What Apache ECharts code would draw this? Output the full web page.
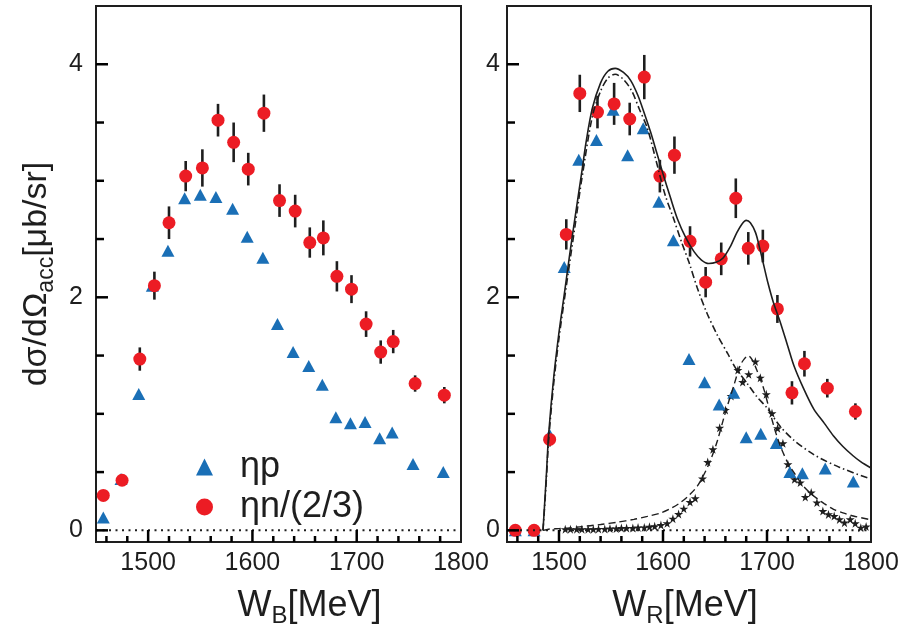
<!DOCTYPE html>
<html>
<head>
<meta charset="utf-8">
<script src="https://cdn.jsdelivr.net/npm/echarts@6/dist/echarts.min.js"></script>
<style>html,body{margin:0;padding:0;background:#fff;}#c{width:905px;height:637px;}</style>
</head>
<body>
<div id="c"></div>
<script>
// ---------- data ----------
const xMajorTicks = [1500, 1600, 1700];
const xLabels = [1500, 1600, 1700, 1800];
const xMinorTicks = [1460, 1480, 1520, 1540, 1560, 1580, 1620, 1640, 1660, 1680, 1720, 1740, 1760, 1780];
const yMajorTicks = [0, 2, 4];
const yMinorTicks = [0.5, 1, 1.5, 2.5, 3, 3.5];

// Left panel (W_B)
const bEtaP_W = [1457, 1474, 1491, 1504, 1519, 1535, 1550, 1565, 1581, 1595, 1610, 1624, 1639, 1654, 1667, 1680, 1694, 1708, 1722, 1734, 1754, 1783];
const bEtaP_Y = [0.11, 0.44, 1.17, 2.10, 2.40, 2.85, 2.88, 2.86, 2.76, 2.52, 2.34, 1.77, 1.53, 1.41, 1.25, 0.97, 0.92, 0.93, 0.79, 0.84, 0.57, 0.50];
const bEtaN_W = [1457, 1475, 1492, 1506, 1520, 1536, 1552, 1567, 1582, 1596, 1611, 1626, 1641, 1655, 1668, 1681, 1695, 1709, 1723, 1735, 1756, 1784];
const bEtaN_Y = [0.30, 0.43, 1.47, 2.10, 2.64, 3.04, 3.11, 3.52, 3.33, 3.10, 3.58, 2.83, 2.74, 2.47, 2.51, 2.18, 2.07, 1.77, 1.53, 1.62, 1.26, 1.16];
const bEtaN_E = [0.04, 0.04, 0.10, 0.12, 0.14, 0.13, 0.16, 0.14, 0.17, 0.14, 0.16, 0.14, 0.14, 0.13, 0.15, 0.13, 0.12, 0.11, 0.10, 0.10, 0.07, 0.07];

// Right panel (W_R)
const rEtaP_W = [1458, 1476, 1491, 1505, 1519, 1536, 1552, 1566, 1581, 1596, 1610, 1625, 1640, 1654, 1668, 1680, 1694, 1709, 1722, 1734, 1756, 1783];
const rEtaP_Y = [0.0, 0.0, 0.82, 2.26, 3.18, 3.35, 3.61, 3.22, 3.45, 2.82, 2.49, 1.47, 1.27, 1.08, 1.18, 0.80, 0.83, 0.75, 0.50, 0.49, 0.53, 0.42];
const rEtaN_W = [1458, 1476, 1491, 1507, 1520, 1537, 1553, 1568, 1582, 1597, 1611, 1626, 1641, 1656, 1670, 1682, 1696, 1710, 1724, 1736, 1758, 1785];
const rEtaN_Y = [0.0, 0.0, 0.78, 2.54, 3.75, 3.59, 3.66, 3.53, 3.89, 3.04, 3.22, 2.48, 2.13, 2.33, 2.85, 2.42, 2.44, 1.90, 1.18, 1.43, 1.22, 1.02];
const rEtaN_E = [0.0, 0.0, 0.06, 0.13, 0.16, 0.14, 0.18, 0.14, 0.19, 0.14, 0.16, 0.13, 0.13, 0.14, 0.17, 0.14, 0.14, 0.12, 0.10, 0.11, 0.08, 0.07];

// Fit curves (right panel)
const fitTotW = [1484.6, 1486, 1488, 1490, 1495, 1500, 1505, 1510, 1516, 1522, 1526, 1532, 1540, 1547, 1554, 1562, 1569, 1576, 1582, 1588, 1594, 1600, 1607, 1614, 1622, 1630, 1637, 1644, 1651, 1658, 1665, 1671, 1676, 1680, 1684, 1689, 1693, 1697, 1701, 1706, 1713, 1720, 1726, 1735, 1745, 1755, 1764, 1773, 1783, 1790, 1800];
const fitTotY = [0, 0.2, 0.5, 0.82, 1.32, 1.7, 2.02, 2.35, 2.72, 3.08, 3.33, 3.62, 3.84, 3.94, 3.965, 3.93, 3.86, 3.73, 3.58, 3.42, 3.24, 3.06, 2.86, 2.67, 2.51, 2.39, 2.32, 2.29, 2.30, 2.34, 2.44, 2.555, 2.63, 2.66, 2.64, 2.555, 2.42, 2.27, 2.12, 1.96, 1.78, 1.58, 1.41, 1.22, 1.04, 0.92, 0.81, 0.72, 0.638, 0.59, 0.535];
const fitBgW = [1484.6, 1486, 1488, 1490, 1495, 1500, 1505, 1510, 1516, 1522, 1532, 1540, 1547, 1554, 1562, 1570, 1577, 1585, 1594, 1602, 1610, 1618, 1625, 1633, 1642, 1652, 1662, 1670, 1681, 1690, 1700, 1712, 1725, 1745, 1770, 1800];
const fitBgY = [0, 0.18, 0.46, 0.77, 1.27, 1.65, 1.97, 2.28, 2.65, 3.02, 3.55, 3.77, 3.88, 3.914, 3.87, 3.77, 3.62, 3.45, 3.15, 2.88, 2.68, 2.47, 2.30, 2.08, 1.87, 1.68, 1.52, 1.39, 1.26, 1.15, 1.05, 0.90, 0.78, 0.65, 0.54, 0.44];
const fitResW = [1484.6, 1490, 1500, 1510, 1520, 1530, 1540, 1556, 1572, 1585, 1598, 1608, 1617, 1625, 1633, 1640, 1646, 1652, 1658, 1663, 1668, 1674, 1678, 1682, 1686, 1690, 1697, 1703, 1708, 1713, 1720, 1726, 1735, 1745, 1755, 1764, 1773, 1783, 1800];
const fitResY = [0.0, 0.01, 0.015, 0.02, 0.03, 0.04, 0.05, 0.07, 0.094, 0.12, 0.15, 0.19, 0.24, 0.30, 0.38, 0.49, 0.61, 0.76, 0.95, 1.10, 1.24, 1.41, 1.47, 1.50, 1.46, 1.38, 1.21, 1.01, 0.85, 0.72, 0.58, 0.495, 0.38, 0.295, 0.23, 0.18, 0.15, 0.123, 0.09];
const starW = [1506, 1511, 1517, 1522, 1528, 1533, 1538, 1544, 1549, 1555, 1560, 1565, 1571, 1576, 1582, 1587, 1592, 1598, 1604, 1609.5, 1615, 1620, 1626, 1631, 1638, 1643, 1648, 1654.5, 1660, 1665.5, 1672, 1676.6, 1682.4, 1688.8, 1693.6, 1699.3, 1704.8, 1710.2, 1715.3, 1720.1, 1726.5, 1732, 1736.8, 1742.5, 1748, 1753.7, 1759.1, 1764.6, 1769.7, 1774.5, 1780, 1784.8, 1790.2, 1795.3];
const starY = [0.01, 0.01, 0.01, 0.01, 0.01, 0.01, 0.012, 0.012, 0.015, 0.015, 0.02, 0.02, 0.02, 0.025, 0.025, 0.03, 0.035, 0.045, 0.06, 0.10, 0.14, 0.186, 0.243, 0.275, 0.444, 0.586, 0.695, 0.88, 1.033, 1.153, 1.376, 1.273, 1.339, 1.448, 1.31, 1.167, 1.004, 0.876, 0.747, 0.567, 0.438, 0.41, 0.286, 0.324, 0.238, 0.166, 0.137, 0.123, 0.094, 0.066, 0.094, 0.06, 0.023, 0.032];

// ---------- chart ----------
const FONT = '"Liberation Sans", Arial, Helvetica, sans-serif';
const INK = '#1e1e1e';
const RED = '#EC1C24';
const BLUE = '#1A6FB6';
const TICK = '#000';
const STAR = 'path://M50,0 L61,35 L98,35 L68,57 L79,91 L50,70 L21,91 L32,57 L2,35 L39,35 Z';
const X_MIN = 1450, X_MAX = 1800, Y_MIN = -0.1, Y_MAX = 4.5;

const zip = (a, b) => a.map((v, i) => [v, b[i]]);
const zip3 = (a, b, c) => a.map((v, i) => [v, b[i], c[i]]);

function errRender(params, api) {
  const x = api.value(0), y = api.value(1), e = api.value(2);
  if (!e) return null;
  const p1 = api.coord([x, y - e]);
  const p2 = api.coord([x, y + e]);
  return { type: 'line', shape: { x1: p1[0], y1: p1[1], x2: p2[0], y2: p2[1] }, style: { stroke: INK, lineWidth: 2.6 } };
}

// Ticks: all ticks of one panel drawn by one custom series as a group,
// each tick positioned through api.coord from the tick-value arrays.
function tickGroupRender(params, api) {
  if (params.dataIndex !== 0) return null;
  const kids = [];
  const add = (p, dx, dy) => kids.push({
    type: 'line', shape: { x1: p[0], y1: p[1], x2: p[0] + dx, y2: p[1] + dy },
    style: { stroke: TICK, lineWidth: 2.5 }
  });
  xMajorTicks.forEach(v => add(api.coord([v, Y_MIN]), 0, -12));
  xMinorTicks.forEach(v => add(api.coord([v, Y_MIN]), 0, -6));
  yMajorTicks.forEach(v => add(api.coord([X_MIN, v]), 12, 0));
  yMinorTicks.forEach(v => add(api.coord([X_MIN, v]), 8, 0));
  return { type: 'group', children: kids };
}

function xAxisFor(g, title, pad) {
  return {
    gridIndex: g, type: 'value', min: X_MIN, max: X_MAX, position: 'bottom',
    axisLine: { show: false, onZero: false }, splitLine: { show: false }, axisTick: { show: false },
    axisLabel: { customValues: xLabels, fontSize: 25, margin: 9, color: INK, fontFamily: FONT, formatter: v => String(v) },
    name: title, nameLocation: 'middle', nameGap: 42,
    nameTextStyle: {
      color: INK, fontFamily: FONT, fontSize: 36, padding: pad,
      rich: {
        a: { fontSize: 36, lineHeight: 44, fontFamily: FONT, color: INK },
        s: { fontSize: 24, lineHeight: 24, verticalAlign: 'bottom', fontFamily: FONT, color: INK }
      }
    }
  };
}

function yAxisFor(g, margin, withName) {
  const ax = {
    gridIndex: g, type: 'value', min: Y_MIN, max: Y_MAX, position: 'left',
    axisLine: { show: false, onZero: false }, splitLine: { show: false }, axisTick: { show: false },
    axisLabel: { customValues: yMajorTicks, fontSize: 25, margin: margin, color: INK, fontFamily: FONT }
  };
  if (withName) {
    Object.assign(ax, {
      name: '{a|dσ/dΩ}{s|acc}{a|[μb/sr]}', nameLocation: 'middle', nameGap: 38, nameRotate: 90,
      nameTextStyle: {
        color: INK, fontFamily: FONT, fontSize: 34,
        rich: {
          a: { fontSize: 34, lineHeight: 42, fontFamily: FONT, color: INK },
          s: { fontSize: 23, lineHeight: 23, verticalAlign: 'bottom', fontFamily: FONT, color: INK }
        }
      }
    });
  }
  return ax;
}

const zeroLine = (g) => ({
  type: 'line', xAxisIndex: g, yAxisIndex: g, data: [[X_MIN, 0], [X_MAX, 0]],
  symbol: 'none', lineStyle: { color: INK, width: 2, type: [2, 4.5] }
});
const tickSeries = (g) => ({
  type: 'custom', xAxisIndex: g, yAxisIndex: g, renderItem: tickGroupRender, clip: false,
  encode: { x: 0, y: 1 }, data: [[X_MIN, Y_MIN]], z: 10
});

const option = {
  backgroundColor: '#fff',
  animation: false,
  grid: [
    { left: 96, top: 6, width: 365, height: 536, show: true, borderColor: INK, borderWidth: 2 },
    { left: 507, top: 6, width: 364, height: 536, show: true, borderColor: INK, borderWidth: 2 }
  ],
  xAxis: [xAxisFor(0, '{a|W}{s|B}{a|[MeV]}', [0, 0, 0, 62]), xAxisFor(1, '{a|W}{s|R}{a|[MeV]}', [0, 8, 0, 0])],
  yAxis: [yAxisFor(0, 13, true), yAxisFor(1, 7, false)],
  legend: {
    left: 191, top: 444, orient: 'vertical', itemWidth: 17, itemHeight: 17, itemGap: 4,
    selectedMode: false,
    textStyle: { fontSize: 36, lineHeight: 36, color: INK, fontFamily: FONT, padding: [0, 0, 0, 22] },
    data: [{ name: 'ηp', icon: 'triangle' }, { name: 'ηn/(2/3)', icon: 'circle' }]
  },
  series: [
    zeroLine(0),
    tickSeries(0),
    { name: 'ηp', type: 'scatter', xAxisIndex: 0, yAxisIndex: 0, symbol: 'triangle', symbolSize: [13, 12],
      itemStyle: { color: BLUE, opacity: 1 }, data: zip(bEtaP_W, bEtaP_Y) },
    { type: 'custom', xAxisIndex: 0, yAxisIndex: 0, renderItem: errRender, encode: { x: 0, y: 1 },
      data: zip3(bEtaN_W, bEtaN_Y, bEtaN_E) },
    { name: 'ηn/(2/3)', type: 'scatter', xAxisIndex: 0, yAxisIndex: 0, symbol: 'circle', symbolSize: 13,
      itemStyle: { color: RED, opacity: 1 }, data: zip(bEtaN_W, bEtaN_Y) },

    zeroLine(1),
    tickSeries(1),
    { type: 'line', xAxisIndex: 1, yAxisIndex: 1, data: zip(fitTotW, fitTotY), symbol: 'none', smooth: 0.3,
      lineStyle: { color: INK, width: 1.6 } },
    { type: 'line', xAxisIndex: 1, yAxisIndex: 1, data: zip(fitBgW, fitBgY), symbol: 'none', smooth: 0.3,
      lineStyle: { color: INK, width: 1.6, type: [7, 3, 1.5, 3] } },
    { type: 'line', xAxisIndex: 1, yAxisIndex: 1, data: zip(fitResW, fitResY), symbol: 'none', smooth: 0.3,
      lineStyle: { color: INK, width: 1.4, type: [7, 4] } },
    { type: 'scatter', xAxisIndex: 1, yAxisIndex: 1, symbol: STAR, symbolSize: 9,
      itemStyle: { color: INK, opacity: 1 }, data: zip(starW, starY) },
    { name: 'ηp', type: 'scatter', xAxisIndex: 1, yAxisIndex: 1, symbol: 'triangle', symbolSize: [13, 12],
      itemStyle: { color: BLUE, opacity: 1 }, data: zip(rEtaP_W, rEtaP_Y) },
    { type: 'custom', xAxisIndex: 1, yAxisIndex: 1, renderItem: errRender, encode: { x: 0, y: 1 },
      data: zip3(rEtaN_W, rEtaN_Y, rEtaN_E) },
    { name: 'ηn/(2/3)', type: 'scatter', xAxisIndex: 1, yAxisIndex: 1, symbol: 'circle', symbolSize: 13,
      itemStyle: { color: RED, opacity: 1 }, data: zip(rEtaN_W, rEtaN_Y) }
  ]
};

const chart = echarts.init(document.getElementById('c'), null, { renderer: 'canvas' });
chart.setOption(option);
</script>
</body>
</html>
